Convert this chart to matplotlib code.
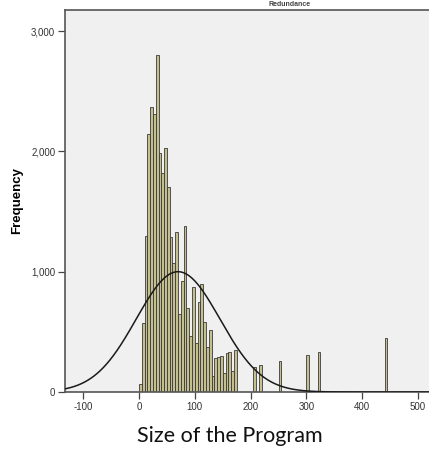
import numpy as np
import matplotlib
matplotlib.use("Agg")
import matplotlib.pyplot as plt
from matplotlib.ticker import FuncFormatter

plt.rcParams["axes.unicode_minus"] = False

# Histogram of program size: bins of width 5 starting at 0
bin_width = 5
main_counts = [66, 573, 1297, 2142, 2372, 2311, 2801, 1984, 1817, 2025,
               1707, 1286, 1072, 1333, 648, 925, 1380, 698, 465, 873,
               407, 750, 898, 584, 377, 515, 133, 282, 293, 299,
               160, 324, 332, 177, 349]
# Sparse large programs (bin left edge, count)
outlier_edges = [205, 215, 250, 300, 320, 440]
outlier_counts = [210, 222, 260, 307, 330, 449]

# Fitted normal curve parameters
curve_mean = 70
curve_sd = 75
curve_n = 37600

x_ticks = [-100, 0, 100, 200, 300, 400, 500]
y_ticks = [0, 1000, 2000, 3000]

fig = plt.figure(figsize=(4.29, 4.53), dpi=100)
fig.patch.set_facecolor("white")
ax = fig.add_axes([65 / 429, 61 / 453, 367 / 429, 382 / 453])
ax.set_facecolor("#f0f0f0")

edges = list(np.arange(len(main_counts)) * bin_width) + outlier_edges
counts = main_counts + outlier_counts
ax.bar(edges, counts, width=bin_width, align="edge",
       facecolor="#c4bf8e", edgecolor="#3a3a3a", linewidth=0.6, zorder=2)

xs = np.linspace(-140, 530, 600)
pdf = np.exp(-0.5 * ((xs - curve_mean) / curve_sd) ** 2) / (curve_sd * np.sqrt(2 * np.pi))
ax.plot(xs, curve_n * bin_width * pdf, color="#1a1a1a", linewidth=1.1, zorder=3)

ax.set_xlim(-132.6, 525)
ax.set_ylim(0, 3175)
ax.set_xticks(x_ticks)
ax.set_yticks(y_ticks)
ax.yaxis.set_major_formatter(FuncFormatter(lambda v, p: f"{int(v):,}"))

for s in ax.spines.values():
    s.set_color("#555555")
    s.set_linewidth(1.2)
ax.tick_params(direction="out", length=5, width=0.9, color="#444444",
               labelsize=7, labelcolor="#333333", pad=2)
for lab in ax.get_xticklabels() + ax.get_yticklabels():
    lab.set_family("Liberation Sans")

ax.set_ylabel("Frequency", fontsize=9.5, fontweight="bold",
              family="Liberation Sans")
ax.yaxis.set_label_coords(-0.114, 0.5)

fig.text(230 / 429, 1 - 436 / 453, "Size of the Program", fontsize=15.5,
         family="Lato", ha="center", va="center", color="#111111")

fig.text(290 / 429, 1 - 0.5 / 453, "Redundance", fontsize=5,
         family="Liberation Sans", fontweight="bold", ha="center",
         va="top", color="#444444")

fig.savefig("out.png", dpi=100)
